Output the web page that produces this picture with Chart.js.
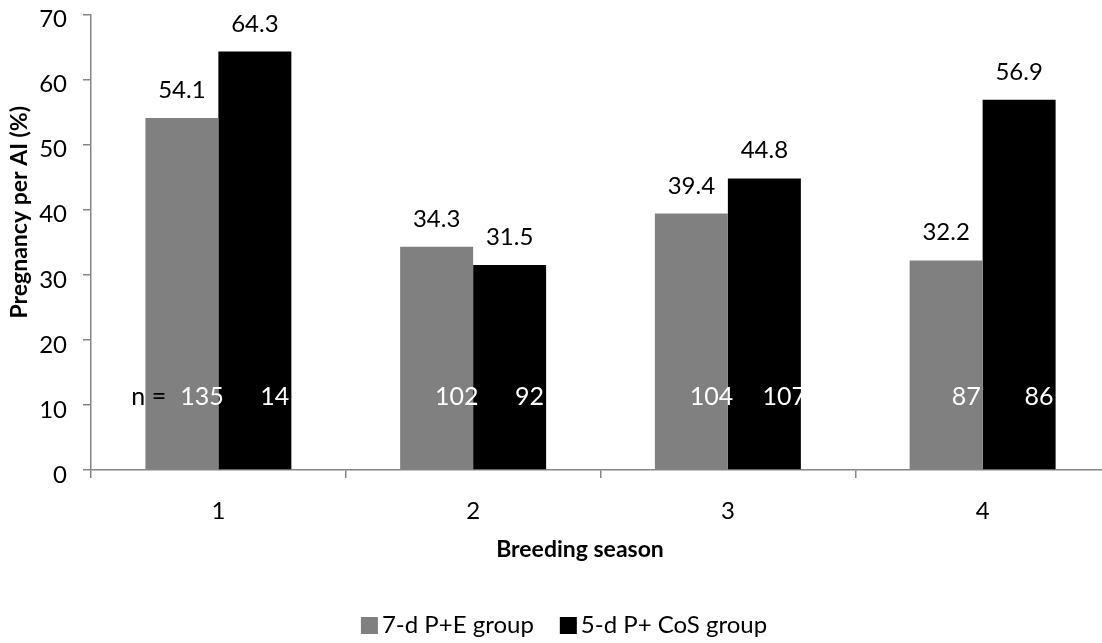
<!DOCTYPE html>
<html><head><meta charset="utf-8">
<script src="https://cdn.jsdelivr.net/npm/chart.js@4/dist/chart.umd.min.js"></script>
<style>
html,body{margin:0;padding:0;background:#fff;overflow:hidden;}
#wrap{width:1128px;height:643px;}
</style></head><body>
<div id="wrap"><canvas id="c" width="1128" height="643"></canvas></div>
<script>
const categories = ['1', '2', '3', '4'];
const seriesNames = ['7-d P+E group', '5-d P+ CoS group'];
const p7eValues = [54.1, 34.3, 39.4, 32.2];
const cosValues = [64.3, 31.5, 44.8, 56.9];
const p7eCounts = ['135', '102', '104', '87'];
const cosCounts = ['14', '92', '107', '86'];
const yMin = 0, yMax = 70, yStep = 10;
const countLabelValue = 10;
const countPrefix = 'n =';
const xTitle = 'Breeding season';
const yTitle = 'Pregnancy per AI (%)';

const FONT = 'Lato';
const AXIS = '#868686';

const annot = {
  id: 'annot',
  afterDatasetsDraw(chart) {
    const { ctx, scales: { y } } = chart;
    ctx.save();
    ctx.textAlign = 'center';
    ctx.textBaseline = 'alphabetic';
    const nY = y.getPixelForValue(countLabelValue);
    chart.data.datasets.forEach((ds, di) => {
      const meta = chart.getDatasetMeta(di);
      meta.data.forEach((bar, i) => {
        ctx.font = '24px ' + FONT;
        ctx.fillStyle = '#000';
        ctx.fillText(ds.data[i].toFixed(1), bar.x, bar.y - 20);
        ctx.font = '25px ' + FONT;
        ctx.fillStyle = '#fff';
        ctx.fillText(ds.counts[i], bar.x + 20, nY);
      });
    });
    ctx.font = '25px ' + FONT;
    const first = chart.getDatasetMeta(0).data[0];
    const w = ctx.measureText(chart.data.datasets[0].counts[0]).width;
    ctx.textAlign = 'right';
    ctx.fillStyle = '#000';
    ctx.fillText(countPrefix, first.x + 20 - w / 2 - 14, nY);
    ctx.restore();
  },
  afterDraw(chart) {
    const { ctx, chartArea } = chart;
    ctx.save();
    ctx.fillStyle = '#000';
    ctx.font = 'bold 23px ' + FONT;
    ctx.textAlign = 'center';
    ctx.textBaseline = 'middle';
    ctx.fillText(xTitle, chart.width / 2 + 16, chartArea.bottom + 80);
    ctx.save();
    ctx.translate(20, (chartArea.top + chartArea.bottom) / 2 - 30);
    ctx.rotate(-Math.PI / 2);
    ctx.fillText(yTitle, 0, 0);
    ctx.restore();
    ctx.font = '24px ' + FONT;
    ctx.textAlign = 'left';
    ctx.textBaseline = 'alphabetic';
    const box = 17, gapT = 4, gapI = 26;
    const items = chart.data.datasets.map(ds => ({ label: ds.label, color: ds.backgroundColor, w: ctx.measureText(ds.label).width }));
    let total = 0;
    items.forEach((it, k) => { total += box + gapT + it.w + (k ? gapI : 0); });
    let x = chart.width / 2 - total / 2;
    const top = chart.height - 26;
    items.forEach((it, k) => {
      if (k) x += gapI;
      ctx.fillStyle = it.color;
      ctx.fillRect(x, top, box, box);
      x += box + gapT;
      ctx.fillStyle = '#000';
      ctx.fillText(it.label, x, top + 16);
      x += it.w;
    });
    ctx.restore();
  }
};

new Chart(document.getElementById('c'), {
  type: 'bar',
  data: {
    labels: categories,
    datasets: [
      { label: seriesNames[0], data: p7eValues, counts: p7eCounts, backgroundColor: '#808080', borderWidth: 0, categoryPercentage: 0.573, barPercentage: 1.0 },
      { label: seriesNames[1], data: cosValues, counts: cosCounts, backgroundColor: '#000000', borderWidth: 0, categoryPercentage: 0.573, barPercentage: 1.0 }
    ]
  },
  options: {
    responsive: false,
    animation: false,
    devicePixelRatio: 1,
    layout: { padding: { top: 14.5, right: 18, bottom: 0, left: 0 } },
    plugins: { legend: { display: false }, tooltip: { enabled: false } },
    scales: {
      x: {
        grid: { display: true, drawOnChartArea: false, tickLength: 8, color: AXIS, lineWidth: 1.5, offset: true },
        border: { color: AXIS, width: 1.5 },
        ticks: { font: { family: FONT, size: 24 }, color: '#000', padding: 19 },
        afterFit(s) { s.height = 173; s.paddingLeft = 0; s.paddingRight = 0; }
      },
      y: {
        min: yMin, max: yMax,
        grid: { display: true, drawOnChartArea: false, tickLength: 8, color: AXIS, lineWidth: 1.5 },
        border: { color: AXIS, width: 1.5 },
        ticks: { stepSize: yStep, font: { family: FONT, size: 24 }, color: '#000', padding: 16, labelOffset: 5 },
        afterFit(s) { s.width = 91; s.paddingTop = 0; s.paddingBottom = 0; }
      }
    }
  },
  plugins: [annot]
});
</script>
</body></html>
